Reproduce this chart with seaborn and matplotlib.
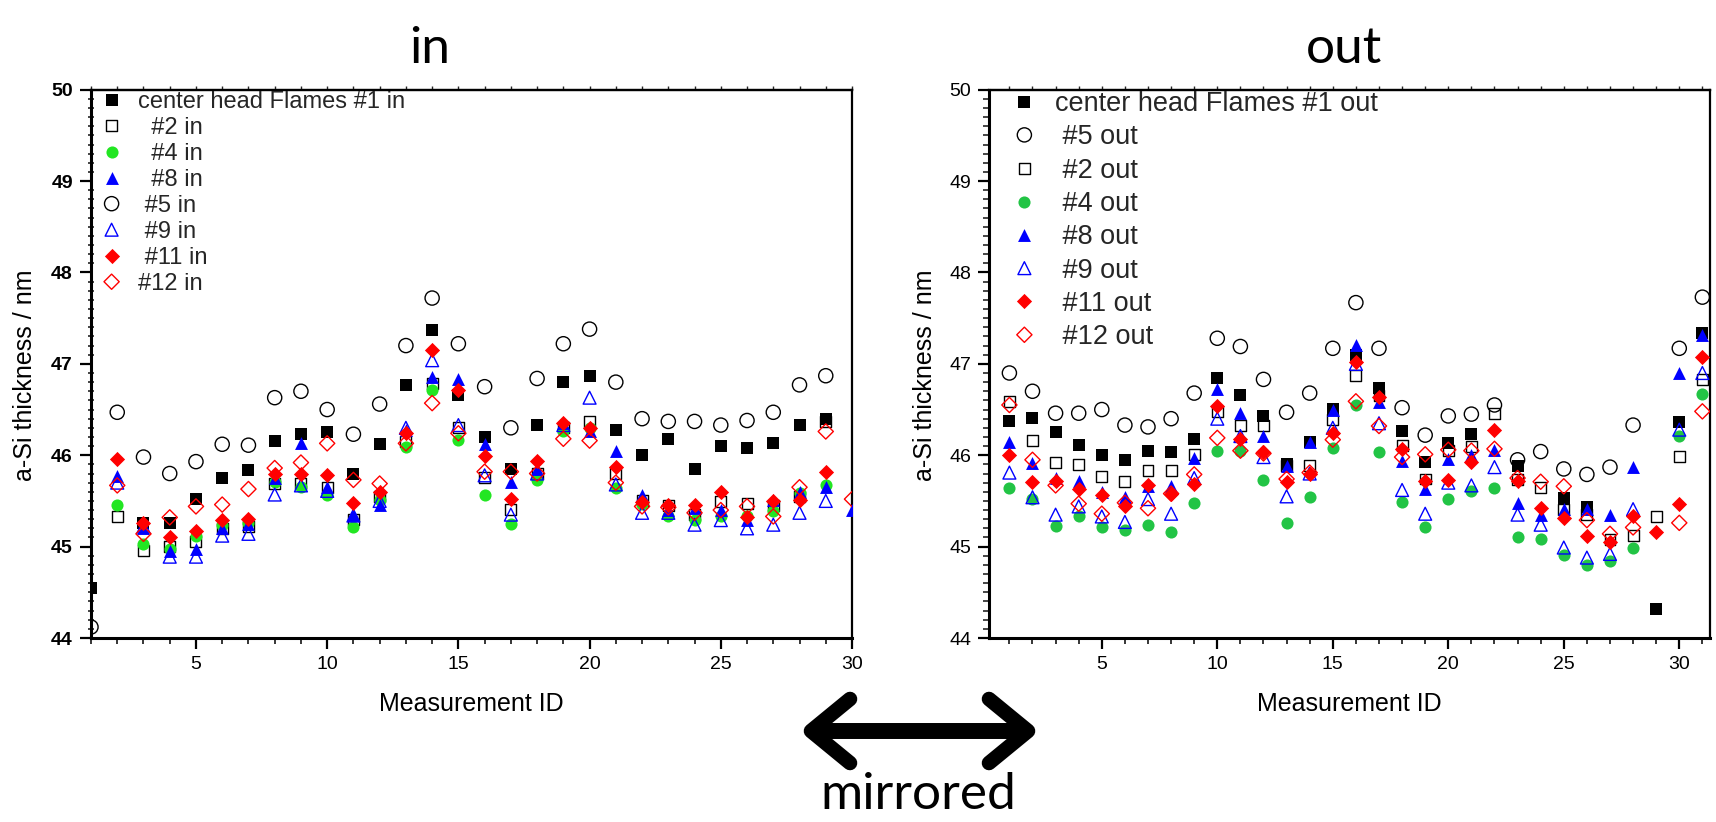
import numpy as np
import pandas as pd
import matplotlib
matplotlib.use("Agg")
import matplotlib.pyplot as plt
import seaborn as sns
from matplotlib.ticker import MultipleLocator
from matplotlib.lines import Line2D

nan = np.nan

# ---------------- data: "in" side (measurement IDs 1..30) ----------------
ids_in = list(range(1, 31))
black_in = [44.55, nan, 45.26, 45.26, 45.52, 45.75, 45.84, 46.16, 46.23, 46.25,
            45.80, 46.12, 46.77, 47.37, 46.66, 46.20, 45.85, 46.33, 46.80, 46.87,
            46.28, 46.00, 46.18, 45.85, 46.10, 46.08, 46.13, 46.33, 46.40, nan]
sq2_in = [nan, 45.33, 44.96, 45.00, 45.06, 45.20, 45.22, 45.69, 45.69, 45.65,
          45.30, 45.55, 46.15, 46.79, 46.30, 45.76, 45.41, 45.80, 46.30, 46.37,
          45.80, 45.50, 45.45, 45.35, 45.49, 45.47, 45.45, 45.55, 46.37, nan]
green4_in = [nan, 45.45, 45.03, 44.97, 45.12, 45.24, 45.26, 45.71, 45.65, 45.57,
             45.22, 45.51, 46.09, 46.71, 46.17, 45.57, 45.25, 45.73, 46.27, 46.30,
             45.64, 45.47, 45.33, 45.29, 45.34, 45.33, 45.39, 45.59, 45.67, nan]
blue8_in = [nan, 45.77, 45.20, 44.95, 44.97, 45.20, 45.25, 45.75, 46.13, 45.65,
            45.35, 45.45, 46.28, 46.86, 46.83, 46.12, 45.71, 45.85, 46.35, 46.26,
            46.05, 45.57, 45.40, 45.42, 45.40, 45.29, 45.51, 45.60, 45.65, 45.40]
circ5_in = [44.12, 46.47, 45.98, 45.80, 45.93, 46.12, 46.11, 46.63, 46.70, 46.50,
            46.23, 46.56, 47.20, 47.72, 47.22, 46.75, 46.30, 46.84, 47.22, 47.38,
            46.80, 46.40, 46.37, 46.37, 46.33, 46.38, 46.47, 46.77, 46.87, nan]
tri9_in = [nan, 45.70, 45.22, 44.89, 44.89, 45.12, 45.14, 45.57, 45.67, 45.61,
           45.34, 45.50, 46.30, 47.04, 46.33, 45.78, 45.35, 45.80, 46.33, 46.63,
           45.68, 45.37, 45.37, 45.24, 45.29, 45.20, 45.24, 45.37, 45.50, nan]
red11_in = [nan, 45.96, 45.26, 45.10, 45.17, 45.29, 45.30, 45.80, 45.80, 45.78,
            45.48, 45.60, 46.24, 47.15, 46.71, 45.99, 45.52, 45.94, 46.35, 46.30,
            45.87, 45.49, 45.45, 45.45, 45.60, 45.32, 45.50, 45.51, 45.82, nan]
dia12_in = [nan, 45.67, 45.14, 45.32, 45.44, 45.46, 45.63, 45.86, 45.92, 46.13,
            45.73, 45.69, 46.13, 46.57, 46.24, 45.82, 45.82, 45.80, 46.18, 46.16,
            45.70, 45.44, 45.43, 45.37, 45.40, 45.44, 45.33, 45.65, 46.26, 45.52]

# ---------------- data: "out" side (measurement IDs 1..31) ----------------
ids_out = list(range(1, 32))
black_out = [46.37, 46.41, 46.25, 46.11, 46.00, 45.95, 46.05, 46.04, 46.18, 46.85,
             46.66, 46.43, 45.90, 46.15, 46.51, 47.10, 46.74, 46.26, 45.93, 46.13,
             46.23, nan, 45.88, nan, 45.53, 45.43, nan, nan, 44.32, 46.36, 47.34]
circ5_out = [46.90, 46.70, 46.46, 46.46, 46.50, 46.33, 46.31, 46.40, 46.68, 47.28,
             47.19, 46.83, 46.47, 46.68, 47.17, 47.67, 47.17, 46.52, 46.22, 46.43,
             46.45, 46.55, 45.95, 46.04, 45.85, 45.79, 45.87, 46.33, nan, 47.17, 47.73]
sq2_out = [46.59, 46.16, 45.92, 45.90, 45.77, 45.71, 45.83, 45.83, 46.01, 46.48,
           46.33, 46.33, 45.89, 45.89, 46.39, 46.87, 46.65, 46.11, 45.74, 46.05,
           46.10, 46.46, 45.73, 45.65, 45.41, 45.35, 45.08, 45.12, 45.33, 45.99, 46.83]
green4_out = [45.64, 45.52, 45.23, 45.33, 45.22, 45.18, 45.24, 45.16, 45.48, 46.05,
              46.05, 45.73, 45.26, 45.54, 46.08, 46.55, 46.04, 45.49, 45.21, 45.52,
              45.61, 45.64, 45.10, 45.08, 44.91, 44.80, 44.84, 44.98, nan, 46.21, 46.67]
blue8_out = [46.14, 45.91, 45.75, 45.72, 45.60, 45.54, 45.66, 45.66, 45.97, 46.73,
             46.46, 46.21, 45.88, 46.15, 46.49, 47.21, 46.58, 45.94, 45.63, 45.96,
             46.00, 46.06, 45.48, 45.35, 45.41, 45.41, 45.35, 45.87, nan, 46.90, 47.32]
tri9_out = [45.81, 45.54, 45.35, 45.44, 45.33, 45.27, 45.52, 45.36, 45.75, 46.40,
            46.21, 45.98, 45.55, 45.80, 46.30, 47.00, 46.35, 45.62, 45.36, 45.70,
            45.67, 45.87, 45.35, 45.24, 44.99, 44.88, 44.92, 45.41, nan, 46.28, 46.90]
red11_out = [46.00, 45.71, 45.72, 45.63, 45.56, 45.44, 45.67, 45.58, 45.68, 46.54,
             46.18, 46.04, 45.71, 45.80, 46.24, 47.02, 46.64, 46.07, 45.72, 45.73,
             45.93, 46.28, 45.72, 45.42, 45.31, 45.12, 45.05, 45.33, 45.16, 45.47, 47.08]
dia12_out = [46.55, 45.95, 45.67, 45.47, 45.36, 45.48, 45.42, 45.58, 45.79, 46.19,
             46.05, 46.02, 45.74, 45.81, 46.17, 46.59, 46.32, 45.98, 46.01, 46.06,
             46.05, 46.07, 45.75, 45.71, 45.66, 45.29, 45.14, 45.21, nan, 45.26, 46.48]

labels_in = ["center head Flames #1 in", "  #2 in", "  #4 in", "  #8 in",
             " #5 in", " #9 in", " #11 in", "#12 in"]
labels_out = ["center head Flames #1 out", " #5 out", " #2 out", " #4 out",
              " #8 out", " #9 out", " #11 out", " #12 out"]
yticks = [44, 45, 46, 47, 48, 49, 50]

# ---------------- styling ----------------
sns.set_theme(style="white")
plt.rcParams["font.family"] = ["Liberation Sans", "DejaVu Sans"]
plt.rcParams["axes.edgecolor"] = "black"

GREEN_IN = "#22e622"
GREEN_OUT = "#22c445"

# (marker, colour, filled, size in pt^2)
M_SQ = ("s", "black", True, 74)
M_SQO = ("s", "black", False, 62)
M_CIR = ("o", "black", False, 104)
M_TRI = ("^", "#0000ff", True, 86)
M_TRIO = ("^", "#0000ff", False, 86)
M_DIA = ("D", "#ff0000", True, 60)
M_DIAO = ("D", "#ff0000", False, 60)

series_in = [
    (black_in, M_SQ), (sq2_in, M_SQO), (green4_in, ("o", GREEN_IN, True, 76)),
    (blue8_in, M_TRI), (circ5_in, M_CIR), (tri9_in, M_TRIO),
    (red11_in, M_DIA), (dia12_in, M_DIAO),
]
series_out = [
    (black_out, M_SQ), (circ5_out, M_CIR), (sq2_out, M_SQO),
    (green4_out, ("o", GREEN_OUT, True, 76)), (blue8_out, M_TRI),
    (tri9_out, M_TRIO), (red11_out, M_DIA), (dia12_out, M_DIAO),
]

W, H = 1716, 822
fig = plt.figure(figsize=(W / 100, H / 100), dpi=100)
fig.patch.set_facecolor("white")

ax_in = fig.add_axes([91 / W, 1 - 638 / H, (852 - 91) / W, (638 - 89.7) / H])
ax_out = fig.add_axes([989.3 / W, 1 - 638 / H, (1710 - 989.3) / W, (638 - 89.7) / H])


def draw_series(ax, ids, series, labels):
    for (vals, (marker, color, filled, size)), label in zip(series, labels):
        df = pd.DataFrame({"id": ids, "thickness": vals}).dropna()
        if filled:
            sns.scatterplot(data=df, x="id", y="thickness", ax=ax, marker=marker,
                            s=size, color=color, edgecolor=color, linewidth=0,
                            label=label, zorder=3)
        else:
            sns.scatterplot(data=df, x="id", y="thickness", ax=ax, marker=marker,
                            s=size, color=color, facecolor="none", edgecolor=color,
                            linewidth=1.0, label=label, zorder=3)


draw_series(ax_in, ids_in, series_in, labels_in)
draw_series(ax_out, ids_out, series_out, labels_out)

ax_in.set_xlim(1, 30)
ax_out.set_xlim(0.13, 31.33)

for ax, bold in ((ax_in, True), (ax_out, False)):
    ax.set_facecolor("white")
    ax.set_ylim(44, 50)
    ax.set_yticks(yticks)
    ax.set_yticklabels([str(v) for v in yticks],
                       fontweight="bold" if bold else "normal", fontsize=14)
    ax.yaxis.set_minor_locator(MultipleLocator(0.1))
    ax.xaxis.set_major_locator(MultipleLocator(5))
    ax.xaxis.set_minor_locator(MultipleLocator(1))
    ax.tick_params(axis="x", which="major", direction="out", length=8, width=1.6,
                   pad=5, labelsize=14, colors="black", bottom=True, top=False)
    ax.tick_params(axis="x", which="minor", direction="out", length=4.5, width=1.3,
                   bottom=True, top=False)
    ax.tick_params(axis="y", which="major", direction="out", length=8, width=1.6,
                   pad=5, colors="black", left=True)
    ax.tick_params(axis="y", which="minor", direction="inout" if bold else "out",
                   length=5 if bold else 4, width=1.2, left=True)
    for side, lw in (("left", 2.2), ("bottom", 2.2), ("top", 1.6), ("right", 1.6)):
        ax.spines[side].set_visible(True)
        ax.spines[side].set_linewidth(lw)
        ax.spines[side].set_color("black")

    top = ax.secondary_xaxis("top")
    top.xaxis.set_major_locator(MultipleLocator(1))
    top.tick_params(axis="x", direction="out", length=3, width=1.0, labeltop=False)
    top.spines["top"].set_linewidth(1.6)

    ax.set_xlabel("Measurement ID", fontsize=18, color="black")
    ax.xaxis.set_label_coords(0.5, -0.0985)
    ax.set_ylabel("a-Si thickness / nm", fontsize=18, color="black")

ax_in.yaxis.set_label_coords(-0.071, 0.48)
ax_out.yaxis.set_label_coords(-0.0726, 0.48)

ax_in.legend(loc="upper left", bbox_to_anchor=(0.01, 1.0), borderaxespad=0,
             borderpad=0.05, frameon=False, fontsize=17, handlelength=1.0,
             handletextpad=0.6, labelspacing=0.17, scatteryoffsets=[0.5])
ax_out.legend(loc="upper left", bbox_to_anchor=(0.028, 1.0), borderaxespad=0,
              borderpad=0.05, frameon=False, fontsize=19.5, handlelength=1.0,
              handletextpad=0.62, labelspacing=0.27, scatteryoffsets=[0.5])


def fx(px):
    return px / W


def fy(py):
    return 1 - py / H


# panel titles
fig.text(fx(430), fy(63), "in", family=["Lato", "DejaVu Sans"], fontsize=37,
         ha="center", va="baseline", color="black")
fig.text(fx(1344), fy(63), "out", family=["Lato", "DejaVu Sans"], fontsize=37,
         ha="center", va="baseline", color="black")

# double-headed "mirrored" arrow between the panels
fig.add_artist(Line2D([fx(818), fx(1022)], [fy(731), fy(731)], lw=11.5,
                      color="black", solid_capstyle="butt"))
fig.add_artist(Line2D([fx(850), fx(811), fx(850)], [fy(699), fy(731), fy(763)],
                      lw=10.5, color="black", solid_capstyle="round",
                      solid_joinstyle="round"))
fig.add_artist(Line2D([fx(989), fx(1028), fx(989)], [fy(699), fy(731), fy(763)],
                      lw=10.5, color="black", solid_capstyle="round",
                      solid_joinstyle="round"))
fig.text(fx(918), fy(809), "mirrored", family=["Lato", "DejaVu Sans"], fontsize=37,
         ha="center", va="baseline", color="black")

fig.savefig("out.png", dpi=100, facecolor="white")
